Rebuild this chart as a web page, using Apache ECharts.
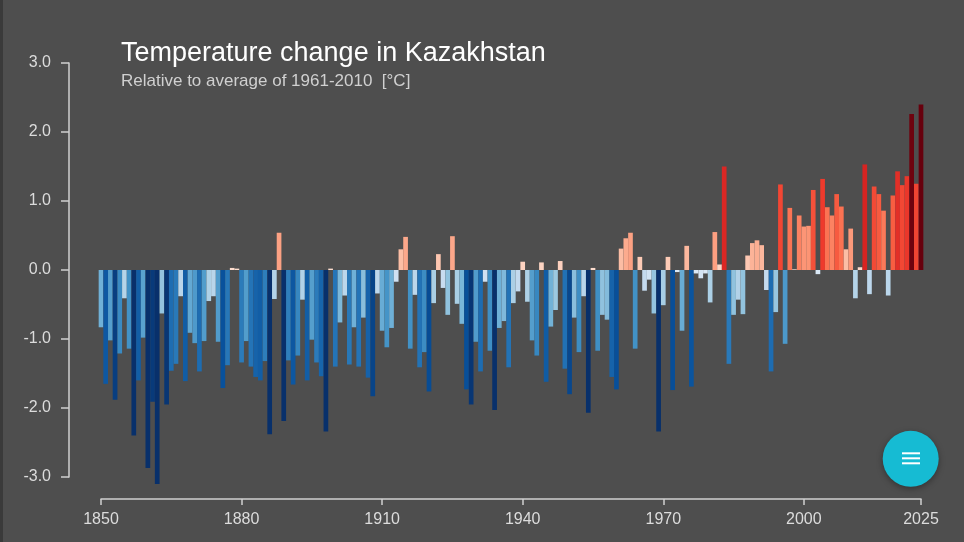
<!DOCTYPE html>
<html>
<head>
<meta charset="utf-8">
<script src="https://cdn.jsdelivr.net/npm/echarts@6/dist/echarts.min.js"></script>
<style>
  html, body { margin: 0; padding: 0; background: #4d4d4d; }
  #chart { width: 964px; height: 542px; }
</style>
</head>
<body>
<div id="chart"></div>
<script>
// ---- data ----
const startYear = 1850;
const endYear = 2025;
const years = [];
for (let y = startYear; y <= endYear; y++) years.push(String(y));

const anomalies = [
  -0.83, -1.65, -1.02, -1.88, -1.21, -0.41, -1.14, -2.40, -1.60, -0.98, // 1850s
  -2.87, -1.91, -3.10, -0.63, -1.95, -1.46, -1.36, -0.38, -1.61, -0.91, // 1860s
  -1.06, -1.47, -1.03, -0.45, -0.38, -1.04, -1.71, -1.38,  0.03,  0.02, // 1870s
  -1.34, -1.03, -1.40, -1.55, -1.60, -1.32, -2.38, -0.42,  0.54, -2.19, // 1880s
  -1.31, -1.66, -1.24, -0.43, -1.60, -1.01, -1.34, -1.54, -2.34,  0.02, // 1890s
  -1.40, -0.76, -0.37, -1.37, -0.83, -1.40, -0.69, -1.56, -1.83, -0.34, // 1900s
  -0.88, -1.12, -0.84, -0.17,  0.30,  0.48, -1.14, -0.36, -1.41, -1.19, // 1910s
  -1.76, -0.48,  0.23, -0.26, -0.65,  0.49, -0.49, -0.78, -1.73, -1.95, // 1920s
  -1.04, -1.47, -0.17, -1.17, -2.03, -0.84, -0.74, -1.41, -0.48, -0.31, // 1930s
   0.12, -0.46, -1.02, -1.24,  0.11, -1.62, -0.82, -0.58,  0.13, -1.43, // 1940s
  -1.80, -0.69, -1.19, -0.38, -2.07,  0.03, -1.17, -0.65, -0.72, -1.55, // 1950s
  -1.73,  0.31,  0.46,  0.54, -1.14,  0.19, -0.30, -0.14, -0.63, -2.34, // 1960s
  -0.51,  0.19, -1.74, -0.03, -0.88,  0.35, -1.69, -0.05, -0.12, -0.05, // 1970s
  -0.47,  0.55,  0.08,  1.50, -1.36, -0.65, -0.43, -0.64,  0.21,  0.39, // 1980s
   0.43,  0.36, -0.29, -1.47, -0.61,  1.24, -1.07,  0.90,  0.01,  0.79, // 1990s
   0.63,  0.64,  1.16, -0.06,  1.32,  0.91,  0.79,  1.10,  0.92,  0.30, // 2000s
   0.60, -0.41,  0.04,  1.53, -0.35,  1.21,  1.10,  0.86, -0.37,  1.08, // 2010s
   1.43,  1.23,  1.36,  2.26,  1.25,  2.40                              // 2020s
];

const xTickYears = ['1850', '1880', '1910', '1940', '1970', '2000', '2025'];
const yTicks = [-3, -2, -1, 0, 1, 2, 3];

// light -> dark
const blueScale = ['#deebf7', '#c6dbef', '#9ecae1', '#6baed6', '#4292c6', '#2171b5', '#08519c', '#08306b'];
const redScale  = ['#fee0d2', '#fcbba1', '#fc9272', '#fb6a4a', '#ef3b2c', '#cb181d', '#a50f15', '#67000d'];
const coldLimit = 2.0;  // anomaly (°C) reaching darkest blue
const warmLimit = 2.3;  // anomaly (°C) reaching darkest red

const titleText = 'Temperature change in Kazakhstan';
const subtitleText = 'Relative to average of 1961-2010  [°C]';

// ---- colour helper ----
function hexToRgb(h) { const n = parseInt(h.slice(1), 16); return [(n >> 16) & 255, (n >> 8) & 255, n & 255]; }
function lerpScale(scale, t) {
  t = Math.max(0, Math.min(1, t));
  const pos = t * (scale.length - 1);
  const i = Math.min(Math.floor(pos), scale.length - 2);
  const f = pos - i;
  const a = hexToRgb(scale[i]), b = hexToRgb(scale[i + 1]);
  const c = a.map((v, k) => Math.round(v + (b[k] - v) * f));
  return 'rgb(' + c.join(',') + ')';
}
function stripeColor(v) {
  return v < 0 ? lerpScale(blueScale, -v / coldLimit) : lerpScale(redScale, v / warmLimit);
}

// ---- chart ----
const chart = echarts.init(document.getElementById('chart'));
const isTick = (idx, val) => xTickYears.indexOf(String(val)) !== -1;
const axisColor = '#d0d0d0';

chart.setOption({
  backgroundColor: '#4e4e4e',
  animation: false,
  title: [
    { text: titleText, left: 121, top: 40, padding: 0,
      textStyle: { color: '#ffffff', fontSize: 27, fontWeight: 'normal', fontFamily: 'Liberation Sans' } },
    { text: subtitleText, left: 121, top: 73, padding: 0,
      textStyle: { color: '#d0d0d0', fontSize: 17, fontWeight: 'normal', fontFamily: 'Liberation Sans' } }
  ],
  grid: { left: 101, right: 43, top: 63, bottom: 65, containLabel: false },
  xAxis: {
    type: 'category', data: years, boundaryGap: false, offset: 22, position: 'bottom',
    axisLine: { show: true, onZero: false, lineStyle: { color: axisColor, width: 1.5 } },
    axisTick: { show: true, interval: isTick, length: 6, lineStyle: { color: axisColor, width: 1.5 } },
    axisLabel: { interval: isTick, color: '#dcdcdc', fontSize: 16, margin: 13, fontFamily: 'Liberation Sans' },
    splitLine: { show: false }
  },
  yAxis: {
    type: 'value', min: yTicks[0], max: yTicks[yTicks.length - 1], interval: 1, offset: 32,
    axisLine: { show: true, lineStyle: { color: axisColor, width: 1.5 } },
    axisTick: { show: true, length: 8, lineStyle: { color: axisColor, width: 1.5 } },
    axisLabel: { color: '#dcdcdc', fontSize: 16, margin: 18, fontFamily: 'Liberation Sans',
      formatter: v => v.toFixed(1) },
    splitLine: { show: false }
  },
  series: [{
    type: 'bar',
    data: anomalies,
    barWidth: '100%',
    clip: false,
    itemStyle: { borderWidth: 0, color: p => stripeColor(p.value) }
  }],
  graphic: [
    { type: 'rect', shape: { x: 0, y: 0, width: 3, height: 542 }, style: { fill: '#3a3a3a' } },
    { type: 'circle', shape: { cx: 910.7, cy: 458.8, r: 28 },
      style: { fill: '#16bbd3', shadowBlur: 6, shadowOffsetY: 2, shadowColor: 'rgba(0,0,0,0.35)' } },
    { type: 'rect', shape: { x: 902, y: 452.3, width: 18, height: 2 }, style: { fill: '#ffffff' } },
    { type: 'rect', shape: { x: 902, y: 457.3, width: 18, height: 2 }, style: { fill: '#ffffff' } },
    { type: 'rect', shape: { x: 902, y: 462.3, width: 18, height: 2 }, style: { fill: '#ffffff' } }
  ]
});
</script>
</body>
</html>
